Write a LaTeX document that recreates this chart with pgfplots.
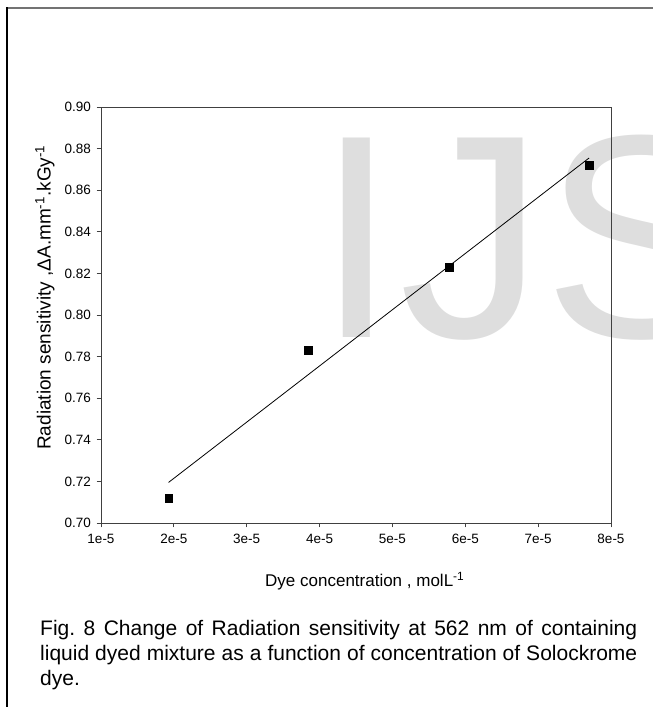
\documentclass[border=0pt]{standalone}
\usepackage{pgfplots}
\pgfplotsset{compat=1.18}
\usepackage{fontspec}
\setmainfont{Liberation Sans}
\definecolor{wm}{gray}{0.87}
\begin{document}
\begin{tikzpicture}[x=1pt,y=1pt]
\useasboundingbox (0,0) rectangle (653,707);
% watermark behind the plot
\begin{scope}[every node/.style={anchor=base west,inner sep=0pt,text=wm,font=\fontsize{290}{290}\selectfont}]
\node at (316,369) {I};
\node at (399,369) {J};
\node at (543,369) {S};
\end{scope}
% page frame
\draw[black!55,line width=2pt] (6,699) -- (670,699);
\draw[black,line width=2pt] (7,-10) -- (7,700);
\begin{axis}[
  at={(101pt,184pt)}, anchor=south west,
  scale only axis, width=510pt, height=416pt,
  xmin=1e-5, xmax=8e-5, ymin=0.70, ymax=0.90,
  axis line style={black!75,line width=0.9pt},
  tick style={black!75,line width=0.9pt},
  tick align=outside, major tick length=4.5pt,
  xtick pos=left, ytick pos=left,
  xtick={1e-5,2e-5,3e-5,4e-5,5e-5,6e-5,7e-5,8e-5},
  xticklabels={1e-5,2e-5,3e-5,4e-5,5e-5,6e-5,7e-5,8e-5},
  ytick={0.70,0.72,0.74,0.76,0.78,0.80,0.82,0.84,0.86,0.88,0.90},
  yticklabel style={xshift=-2pt,/pgf/number format/fixed,/pgf/number format/fixed zerofill,/pgf/number format/precision=2},
  xticklabel style={yshift=-3pt},
  /pgf/number format/assume math mode=true,
  ticklabel style={font=\fontsize{13.5}{16}\selectfont},
  scaled x ticks=false,
  xlabel={Dye concentration , molL\textsuperscript{-1}},
  ylabel={Radiation sensitivity ,ΔA.mm\textsuperscript{-1}.kGy\textsuperscript{-1}},
  xlabel style={font=\fontsize{17}{20}\selectfont,at={(axis description cs:0.3216,0)},anchor=base west,inner sep=0pt,yshift=-64pt},
  ylabel style={font=\fontsize{19}{22}\selectfont,at={(axis description cs:-0.1098,0.1755)},anchor=west,inner sep=0pt},
]
\addplot[black,line width=0.8pt] coordinates {(1.927e-5,0.7195) (7.70e-5,0.8755)};
\addplot[only marks,mark=square*,mark size=3.8pt,black] coordinates {
  (1.927e-5,0.712) (3.845e-5,0.783) (5.78e-5,0.823) (7.70e-5,0.872)};
\end{axis}
% caption
\node[anchor=north west,inner sep=0pt,text width=597pt,align=justify,
      font=\fontsize{21}{25}\selectfont] at (40,86.5)
  {\hyphenpenalty=10000\frenchspacing Fig. 8 Change of Radiation sensitivity at 562 nm of containing\linebreak
   liquid dyed mixture as a function of concentration of Solockrome\linebreak dye.};
\end{tikzpicture}
\end{document}
